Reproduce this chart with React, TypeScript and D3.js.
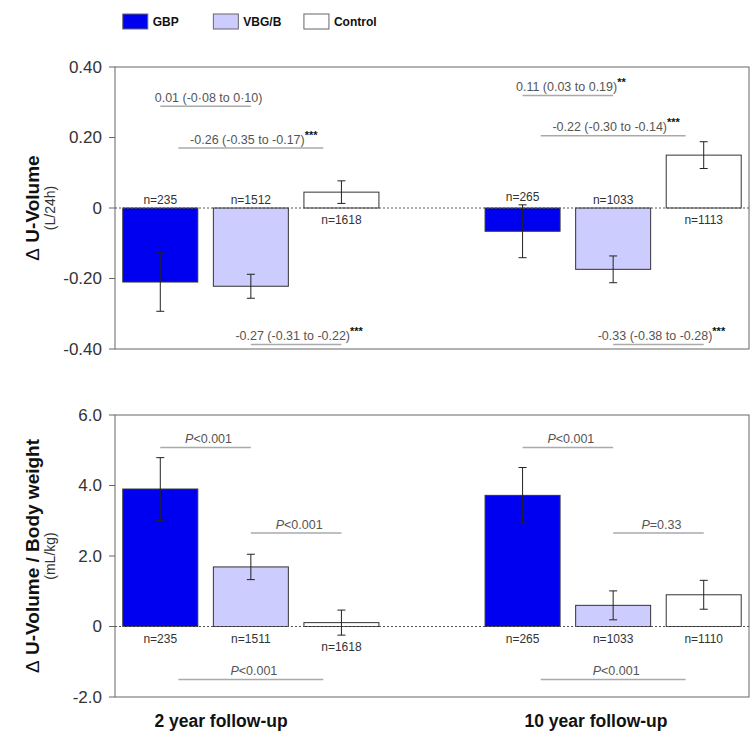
import React from "react";
import * as d3 from "d3";

// ---------- data ----------
const surgeryGroups = ["GBP", "VBG/B", "Control"];
const followUps = ["2 year follow-up", "10 year follow-up"];
const slots = ["2y-GBP", "2y-VBG/B", "2y-Control", "gap", "10y-GBP", "10y-VBG/B", "10y-Control"];
const barSlots = ["2y-GBP", "2y-VBG/B", "2y-Control", "10y-GBP", "10y-VBG/B", "10y-Control"];
const barGroup = ["GBP", "VBG/B", "Control", "GBP", "VBG/B", "Control"];

const volumeMean = [-0.21, -0.222, 0.045, -0.066, -0.174, 0.15];
const volumeErr = [0.083, 0.034, 0.032, 0.075, 0.038, 0.038];
const volumeN = [235, 1512, 1618, 265, 1033, 1113];

const perKgMean = [3.9, 1.69, 0.11, 3.72, 0.6, 0.9];
const perKgErr = [0.89, 0.36, 0.355, 0.79, 0.41, 0.41];
const perKgN = [235, 1511, 1618, 265, 1033, 1110];

const volumeTicks = [0.4, 0.2, 0, -0.2, -0.4];
const volumeTickLabels = ["0.40", "0.20", "0", "-0.20", "-0.40"];
const perKgTicks = [6, 4, 2, 0, -2];
const perKgTickLabels = ["6.0", "4.0", "2.0", "0", "-2.0"];

// annotation: text, stars, italic P prefix, from slot, to slot (or centre slot with half width), level (data units)
type Ann = { text: string; stars?: string; p?: boolean; from: string; to?: string; level: number };
const volumeAnns: Ann[] = [
  { text: "0.01 (-0·08 to 0·10)", from: "2y-GBP", to: "2y-VBG/B", level: 0.289 },
  { text: "-0.26 (-0.35 to -0.17)", stars: "***", from: "2y-VBG/B", level: 0.17 },
  { text: "-0.27 (-0.31 to -0.22)", stars: "***", from: "2y-VBG/B", to: "2y-Control", level: -0.387 },
  { text: "0.11 (0.03 to 0.19)", stars: "**", from: "10y-GBP", to: "10y-VBG/B", level: 0.319 },
  { text: "-0.22 (-0.30 to -0.14)", stars: "***", from: "10y-VBG/B", level: 0.205 },
  { text: "-0.33 (-0.38 to -0.28)", stars: "***", from: "10y-VBG/B", to: "10y-Control", level: -0.387 },
];
const perKgAnns: Ann[] = [
  { text: "<0.001", p: true, from: "2y-GBP", to: "2y-VBG/B", level: 5.08 },
  { text: "<0.001", p: true, from: "2y-VBG/B", to: "2y-Control", level: 2.65 },
  { text: "<0.001", p: true, from: "2y-VBG/B", level: -1.5 },
  { text: "<0.001", p: true, from: "10y-GBP", to: "10y-VBG/B", level: 5.08 },
  { text: "=0.33", p: true, from: "10y-VBG/B", to: "10y-Control", level: 2.65 },
  { text: "<0.001", p: true, from: "10y-VBG/B", level: -1.5 },
];

// ---------- layout ----------
const W = 754;
const H = 746;
const LEFT = 115;
const RIGHT = 749;
const FONT = "'Liberation Sans', Arial, sans-serif";
const colors: Record<string, string> = { GBP: "#0000F0", "VBG/B": "#CCCCFF", Control: "#FFFFFF" };

const x = d3.scaleBand<string>().domain(slots).range([LEFT, RIGHT]).paddingInner(0.172).paddingOuter(0.086);
const cx = (s: string) => (x(s) as number) + x.bandwidth() / 2;

function Panel(props: {
  top: number; bottom: number; domain: [number, number];
  ticks: number[]; tickLabels: string[];
  mean: number[]; err: number[]; n: number[]; anns: Ann[];
  title: string; unit: string;
}) {
  const { top, bottom, domain, ticks, tickLabels, mean, err, n, anns, title, unit } = props;
  const y = d3.scaleLinear().domain(domain).range([bottom, top]);
  const zeroY = y(0);
  const midY = (top + bottom) / 2;
  return (
    <g>
      {/* frame */}
      <rect x={LEFT} y={top} width={RIGHT - LEFT} height={bottom - top} fill="none" stroke="#666" strokeWidth={1} />
      {ticks.map((t, i) => (
        <g key={i}>
          <line x1={LEFT - 6} x2={LEFT} y1={y(t)} y2={y(t)} stroke="#666" />
          <text x={LEFT - 13} y={y(t)} dy="0.35em" textAnchor="end" fontSize={17} fill="#333" fontFamily={FONT}>
            {tickLabels[i]}
          </text>
        </g>
      ))}
      {/* bars */}
      {barSlots.map((s, i) => {
        const v = mean[i];
        const y0 = Math.min(y(v), zeroY);
        const h = Math.abs(y(v) - zeroY);
        return (
          <rect key={s} x={x(s)} y={y0} width={x.bandwidth()} height={h}
            fill={colors[barGroup[i]]} stroke="#333" strokeWidth={1} />
        );
      })}
      {/* zero line */}
      <line x1={LEFT} x2={RIGHT} y1={zeroY} y2={zeroY} stroke="#555" strokeDasharray="2,2" strokeWidth={1} />
      {/* error bars */}
      {barSlots.map((s, i) => {
        const c = cx(s);
        const y1 = y(mean[i] + err[i]);
        const y2 = y(mean[i] - err[i]);
        return (
          <g key={s} stroke="#222" strokeWidth={1}>
            <line x1={c} x2={c} y1={y1} y2={y2} />
            <line x1={c - 4} x2={c + 4} y1={y1} y2={y1} />
            <line x1={c - 4} x2={c + 4} y1={y2} y2={y2} />
          </g>
        );
      })}
      {/* n labels */}
      {barSlots.map((s, i) => {
        const v = mean[i];
        let cy: number;
        if (v < 0) cy = Math.min(zeroY, y(v + err[i])) - 8;
        else cy = Math.max(zeroY, y(v - err[i])) + 12;
        return (
          <text key={s} x={cx(s)} y={cy} dy="0.35em" textAnchor="middle" fontSize={12} fill="#333" fontFamily={FONT}>
            n={n[i]}
          </text>
        );
      })}
      {/* annotations */}
      {anns.map((a, i) => {
        let x1: number, x2: number;
        if (a.to) { x1 = cx(a.from); x2 = cx(a.to); }
        else { x1 = cx(a.from) - x.step() * 0.8; x2 = cx(a.from) + x.step() * 0.8; }
        const ly = y(a.level);
        const tx = (x1 + x2) / 2 + 3;
        return (
          <g key={i}>
            <line x1={x1} x2={x2} y1={ly} y2={ly} stroke="#aaa" strokeWidth={1.5} />
            <text x={tx} y={ly - 4.5} textAnchor="middle" fontSize={12.5} fill="#555" fontFamily={FONT}>
              {a.p ? <tspan fontStyle="italic">P</tspan> : null}
              <tspan>{a.text}</tspan>
              {a.stars ? <tspan fill="#111" fontWeight="bold" fontSize={11} dy={-5}>{a.stars}</tspan> : null}
            </text>
          </g>
        );
      })}
      {/* y title */}
      <text transform={`translate(39,${midY}) rotate(-90)`} textAnchor="middle" fontSize={19} fontWeight="bold" fill="#111" fontFamily={FONT}>
        <tspan fontWeight="normal">Δ</tspan> {title}
      </text>
      <text transform={`translate(55,${midY}) rotate(-90)`} textAnchor="middle" fontSize={14} fill="#333" fontFamily={FONT}>
        {unit}
      </text>
    </g>
  );
}

export default function App() {
  const legendSlots = ["2y-GBP", "2y-VBG/B", "2y-Control"];
  const followX = [221, 596];
  return (
    <svg width={W} height={H} style={{ position: "absolute", left: 0, top: 0, background: "#fff" }}>
      <rect width={W} height={H} fill="#fff" />
      {/* legend */}
      {surgeryGroups.map((g, i) => (
        <g key={g}>
          <rect x={x(legendSlots[i])} y={14} width={25} height={15} fill={colors[g]} stroke="#666" strokeWidth={1} />
          <text x={(x(legendSlots[i]) as number) + 30} y={22} dy="0.35em" fontSize={12} fontWeight="bold" fill="#111" fontFamily={FONT}>
            {g}
          </text>
        </g>
      ))}
      <Panel top={67} bottom={349} domain={[-0.4, 0.4]} ticks={volumeTicks} tickLabels={volumeTickLabels}
        mean={volumeMean} err={volumeErr} n={volumeN} anns={volumeAnns} title="U-Volume" unit="(L/24h)" />
      <Panel top={415} bottom={697} domain={[-2, 6]} ticks={perKgTicks} tickLabels={perKgTickLabels}
        mean={perKgMean} err={perKgErr} n={perKgN} anns={perKgAnns} title="U-Volume / Body weight" unit="(mL/kg)" />
      {followUps.map((f, i) => (
        <text key={f} x={followX[i]} y={721} dy="0.35em" textAnchor="middle" fontSize={17.5} fontWeight="bold" fill="#111" fontFamily={FONT}>
          {f}
        </text>
      ))}
    </svg>
  );
}
